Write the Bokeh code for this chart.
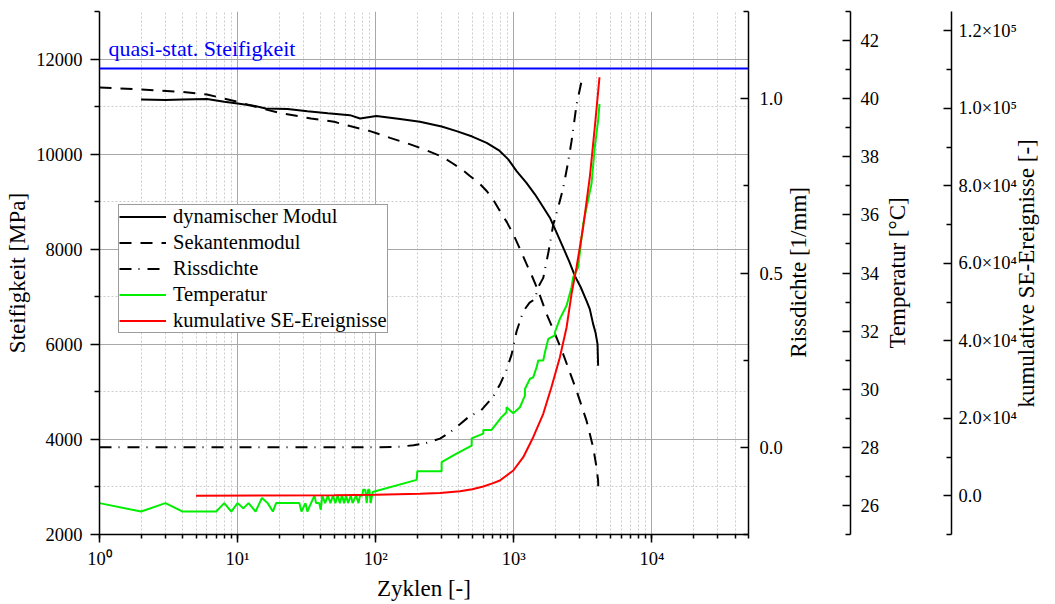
import math
from bokeh.plotting import figure
from bokeh.models import (LinearAxis, Range1d, FixedTicker, PrintfTickFormatter,
                          CustomJSTickFormatter, Legend, LegendItem, Span, Label)
from bokeh.embed import file_html
from bokeh.resources import INLINE

FONT = "Liberation Serif"

# ---------------- data ----------------
quasi_stat = 11800

dyn_x = [2, 3, 4, 6, 8, 10, 13, 16, 23, 32, 45, 65, 77, 101, 150, 209, 300, 385, 500,
         636, 780, 911, 1047, 1230, 1421, 1620, 1824, 2040, 2277, 2520, 2766, 3050,
         3359, 3548, 3752, 3900, 4036, 4076]
dyn_y = [11150, 11140, 11150, 11160, 11100, 11065, 11020, 10960, 10950, 10900, 10860,
         10820, 10750, 10800, 10740, 10680, 10580, 10484, 10370, 10238, 10080, 9890,
         9644, 9400, 9155, 8900, 8663, 8350, 8033, 7740, 7439, 7200, 6914, 6740, 6425,
         6250, 6005, 5549]

sek_x = [1, 2, 4, 6, 10, 15, 20, 34, 50, 65, 91, 127, 180, 234, 300, 355, 420, 481, 560,
         636, 720, 793, 890, 991, 1110, 1237, 1370, 1502, 1727, 2000, 2277, 2550, 2844,
         3100, 3359, 3560, 3752, 3950, 4076, 4090]
sek_y = [11400, 11360, 11310, 11255, 11100, 10960, 10870, 10750, 10680, 10590, 10484,
         10343, 10200, 10079, 9950, 9819, 9680, 9539, 9390, 9224, 9010, 8804, 8570, 8315,
         8000, 7685, 7400, 7124, 6635, 6200, 5795, 5400, 5024, 4700, 4394, 4100, 3833,
         3450, 3134, 2888]

riss_x = [1, 100, 150, 188, 230, 292, 350, 407, 480, 569, 601, 710, 793, 880, 963, 1047,
          1170, 1300, 1421, 1502, 1633, 1780, 1929, 2100, 2277, 2450, 2617, 2844, 3090,
          3200]
riss_y = [0.0, 0.0, 0.002, 0.006, 0.012, 0.025, 0.045, 0.066, 0.09, 0.103, 0.113, 0.146,
          0.18, 0.22, 0.266, 0.333, 0.39, 0.415, 0.425, 0.46, 0.486, 0.56, 0.639, 0.69,
          0.744, 0.81, 0.878, 0.983, 1.05, 1.058]

temp_x = [1, 2, 3, 4, 7, 8, 9, 10, 11, 12, 13.5, 15, 16.5, 18, 19, 28, 29, 31, 32, 34,
          36, 37, 39, 40, 41, 43, 45, 47, 49, 51, 53, 55, 57, 59, 61, 63, 66, 68, 72, 75,
          77, 80, 81, 84, 86, 88, 90, 92, 95, 198, 200, 300, 300, 385, 495, 495, 601, 601,
          690, 815, 885, 885, 991, 1107, 1203, 1203, 1309, 1381, 1462, 1502, 1633, 1680,
          1775, 1982, 1982, 2155, 2277, 2410, 2617, 2687, 2922, 3176, 3650, 3855, 4076,
          4170]
temp_y = [26.08, 25.79, 26.08, 25.79, 25.79, 26.08, 25.79, 26.08, 25.9, 26.08, 25.79,
          26.26, 26.08, 25.79, 26.08, 26.08, 25.79, 26.08, 25.79, 26.08, 26.34, 26.08,
          26.08, 25.85, 26.34, 26.08, 26.34, 26.08, 26.34, 26.08, 26.34, 26.08, 26.34,
          26.08, 26.34, 26.08, 26.34, 26.08, 26.34, 26.08, 26.34, 26.34, 26.54, 26.54,
          26.08, 26.54, 26.54, 26.08, 26.46, 26.88, 27.18, 27.18, 27.49, 27.78, 28.06,
          28.31, 28.47, 28.6, 28.6, 29.04, 29.21, 29.38, 29.17, 29.38, 29.78, 30.01,
          30.36, 30.41, 30.76, 30.99, 30.99, 31.27, 31.73, 31.85, 31.96, 32.42, 32.65,
          32.88, 33.51, 33.85, 34.2, 35.69, 37.07, 38.33, 39.25, 39.82]

se_x = [5, 50, 100, 209, 292, 407, 500, 601, 700, 793, 991, 1170, 1381, 1633, 1871, 2155,
        2410, 2617, 2844, 3176, 3548, 3855, 4170]
se_y = [0, 100, 250, 505, 700, 1150, 1700, 2400, 3200, 3937, 6518, 9951, 15110, 21150,
        28020, 35760, 43500, 52120, 58990, 69310, 82220, 95120, 108030]

x_lim = (1, 5e4)
y_lim = (2000, 13000)
y_ticks = [2000, 4000, 6000, 8000, 10000, 12000]
y_minor = [3000, 5000, 7000, 9000, 11000, 13000]
riss_ticks = [0.0, 0.5, 1.0]
riss_minor = [-0.25, 0.25, 0.75, 1.25]
temp_ticks = [26, 28, 30, 32, 34, 36, 38, 40, 42]
temp_minor = [25, 27, 29, 31, 33, 35, 37, 39, 41, 43]
se_ticks = [0, 20000, 40000, 60000, 80000, 100000, 120000]
se_minor = [-10000, 10000, 30000, 50000, 70000, 90000, 110000]
se_labels = ["0.0", "2.0×10⁴", "4.0×10⁴", "6.0×10⁴", "8.0×10⁴", "1.0×10⁵", "1.2×10⁵"]

# where each rotated right-hand title starts (its lower end), on the main y scale
title_start = {"riss": 5720, "temp": 5910, "se": 4670}
y_mid = (y_lim[0] + y_lim[1]) // 2

# ---------------- figure ----------------
p = figure(width=1055, height=604, x_axis_type="log",
           x_range=Range1d(*x_lim), y_range=Range1d(*y_lim),
           output_backend="svg", toolbar_location=None,
           min_border_left=99, min_border_right=307, min_border_top=11,
           min_border_bottom=70)
p.outline_line_color = None
p.background_fill_color = "white"
p.border_fill_color = "white"

p.extra_y_ranges = {"riss": Range1d(-0.25, 1.25),
                    "temp": Range1d(25, 43),
                    "se": Range1d(-10000, 125000)}


def style_axis(ax, label, t_out, t_in, m_out, m_in, lstand, astand):
    if label is not None:
        ax.axis_label = label
    ax.axis_label_text_font = FONT
    ax.axis_label_text_font_size = "23px"
    ax.axis_label_text_font_style = "normal"
    ax.axis_label_text_color = "black"
    ax.axis_label_standoff = astand
    ax.major_label_text_font = FONT
    ax.major_label_text_font_size = "18.5px"
    ax.major_label_text_color = "black"
    ax.major_label_standoff = lstand
    ax.axis_line_color = "black"
    ax.axis_line_width = 1.5
    ax.major_tick_line_color = "black"
    ax.major_tick_line_width = 1.5
    ax.minor_tick_line_color = "black"
    ax.minor_tick_line_width = 1.5
    ax.major_tick_out = t_out
    ax.major_tick_in = t_in
    ax.minor_tick_out = m_out
    ax.minor_tick_in = m_in


# left axis
yax = p.yaxis[0]
yt = FixedTicker(ticks=y_ticks, minor_ticks=y_minor)
yax.ticker = yt
p.ygrid[0].ticker = yt
yax.formatter = PrintfTickFormatter(format="%d")
style_axis(yax, "Steifigkeit [MPa]", 9, 0, 5, 0, 8, 3)

# bottom axis
xax = p.xaxis[0]
xax.formatter = CustomJSTickFormatter(code="""
const sup = ["⁰","¹","²","³","⁴","⁵","⁶","⁷","⁸","⁹"];
const e = Math.round(Math.log10(tick));
return "10" + sup[e];
""")
style_axis(xax, "Zyklen [-]", 8, 0, 4, 0, 6, 4)

# grids
for g in (p.xgrid[0], p.ygrid[0]):
    g.grid_line_color = "#a8a8a8"
    g.grid_line_width = 1
    g.minor_grid_line_color = "#cdcdcd"
    g.minor_grid_line_dash = "2 2"
    g.minor_grid_line_width = 1


def right_axis(name, ticker, formatter, lstand):
    ax = LinearAxis(y_range_name=name, ticker=ticker, formatter=formatter)
    style_axis(ax, None, 0, 8, 0, 5, lstand, 0)
    p.add_layout(ax, "right")
    return ax


def bare_axis(text, at, size, standoff, angle):
    # an axis with one tick label only: used for rotated titles and for spacing
    ax = LinearAxis(ticker=FixedTicker(ticks=[at]),
                    major_label_overrides={at: text},
                    major_label_orientation=angle,
                    axis_line_color=None, major_tick_line_color=None,
                    minor_tick_line_color=None, major_tick_out=0, major_tick_in=0,
                    minor_tick_out=0, minor_tick_in=0, major_label_standoff=standoff,
                    major_label_text_font=FONT, major_label_text_font_size=size,
                    major_label_text_color="black")
    p.add_layout(ax, "right")


right_axis("riss", FixedTicker(ticks=riss_ticks, minor_ticks=riss_minor),
           PrintfTickFormatter(format="%.1f"), 11)
bare_axis("Rissdichte [1/mm]", title_start["riss"], "23px", 13, math.pi / 2)
bare_axis(" ", y_mid, "1px", 21, "horizontal")
right_axis("temp", FixedTicker(ticks=temp_ticks, minor_ticks=temp_minor),
           PrintfTickFormatter(format="%d"), 10)
bare_axis("Temperatur [°C]", title_start["temp"], "23px", 15, math.pi / 2)
bare_axis(" ", y_mid, "1px", 23, "horizontal")
se_ax = right_axis("se", FixedTicker(ticks=se_ticks, minor_ticks=se_minor),
                   PrintfTickFormatter(format="%d"), 7)
se_ax.major_label_overrides = {t: l for t, l in zip(se_ticks, se_labels)}
bare_axis("kumulative SE-Ereignisse [-]", title_start["se"], "23px", 6, math.pi / 2)

# ---------------- glyphs ----------------
p.add_layout(Span(location=quasi_stat, dimension="width", line_color="#0000ff",
                  line_width=2))
p.add_layout(Label(x=x_lim[0], y=quasi_stat, x_offset=9, y_offset=20,
                   text="quasi-stat. Steifigkeit", text_color="#0000ff",
                   text_font=FONT, text_font_size="22px", text_baseline="alphabetic"))

r_dyn = p.line(dyn_x, dyn_y, line_color="black", line_width=2)
r_sek = p.line(sek_x, sek_y, line_color="black", line_width=2, line_dash="12 9")
r_riss = p.line(riss_x, riss_y, line_color="black", line_width=2, line_dash="12 7 1 8",
                y_range_name="riss")
r_temp = p.line(temp_x, temp_y, line_color="#00ee00", line_width=2, y_range_name="temp")
r_se = p.line(se_x, se_y, line_color="#ff0000", line_width=2, y_range_name="se")

legend = Legend(items=[
    LegendItem(label="dynamischer Modul", renderers=[r_dyn]),
    LegendItem(label="Sekantenmodul", renderers=[r_sek]),
    LegendItem(label="Rissdichte", renderers=[r_riss]),
    LegendItem(label="Temperatur", renderers=[r_temp]),
    LegendItem(label="kumulative SE-Ereignisse", renderers=[r_se]),
], location=(19, 201))
legend.label_text_font = FONT
legend.label_text_font_size = "20.5px"
legend.label_text_color = "black"
legend.glyph_width = 47
legend.glyph_height = 23
legend.label_height = 23
legend.label_standoff = 7
legend.spacing = 3
legend.padding = 0
legend.margin = 0
legend.border_line_color = "#3a3a3a"
legend.border_line_width = 1
legend.background_fill_color = "white"
legend.background_fill_alpha = 1
p.add_layout(legend)

open("out.html", "w").write(file_html(p, INLINE))
